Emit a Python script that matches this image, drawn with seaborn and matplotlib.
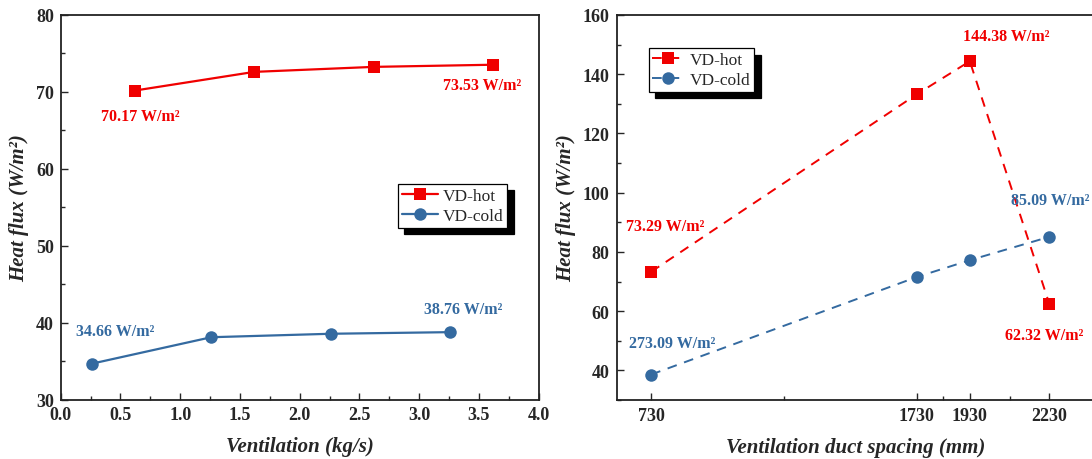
import matplotlib
matplotlib.use("Agg")
import matplotlib.pyplot as plt
from matplotlib.ticker import MultipleLocator, FixedLocator
import seaborn as sns
import pandas as pd

# Left panel: heat flux vs. ventilation rate
vent_hot = [0.62, 1.62, 2.62, 3.62]
flux_hot_vent = [70.17, 72.6, 73.25, 73.53]
vent_cold = [0.26, 1.26, 2.26, 3.26]
flux_cold_vent = [34.66, 38.1, 38.55, 38.76]

# Right panel: heat flux vs. ventilation duct spacing
spacing = [730, 1730, 1930, 2230]
flux_hot_spacing = [73.29, 133.2, 144.38, 62.32]
flux_cold_spacing = [38.6, 71.5, 77.2, 85.09]
spacing_minor = [1230, 1830, 2080]

series_names = ["VD-hot", "VD-cold"]

RED = "#f00000"
BLUE = "#346aa0"
SERIF = "Liberation Serif"
LABEL_SIZE = 15
TICK_SIZE = 13
ANN_SIZE = 11.5

sns.set_theme(style="ticks")
plt.rcParams["font.family"] = [SERIF, "DejaVu Serif"]
plt.rcParams["axes.edgecolor"] = "#222222"

fig = plt.figure(figsize=(10.92, 4.6), dpi=100)
ax1 = fig.add_axes([0.0556, 0.1293, 0.4376, 0.836])
ax2 = fig.add_axes([0.5647, 0.1283, 0.4863, 0.837])


def style_axes(ax):
    for sp in ax.spines.values():
        sp.set_visible(True)
        sp.set_linewidth(1.3)
        sp.set_color("#222222")
    ax.tick_params(which="major", direction="in", length=5, width=1.0,
                   labelsize=TICK_SIZE, pad=5, top=False, right=False)
    ax.tick_params(which="minor", direction="in", length=3, width=1.0,
                   top=False, right=False)
    for lab in ax.get_xticklabels() + ax.get_yticklabels():
        lab.set_fontweight("bold")


def make_legend(ax, anchor, handlelength):
    leg = ax.legend(loc="upper left", bbox_to_anchor=anchor, borderaxespad=0,
                    frameon=True, fancybox=False, framealpha=1,
                    edgecolor="black", prop={"family": SERIF, "size": 12.5},
                    handlelength=handlelength, handletextpad=0.3,
                    borderpad=0.2, labelspacing=0.25,
                    shadow={"ox": 4.5, "oy": -4.5, "facecolor": "black",
                            "edgecolor": "black", "alpha": 1})
    leg.get_frame().set_linewidth(0.9)
    return leg


label_kw = dict(fontsize=LABEL_SIZE, fontweight="bold", fontstyle="italic")

# ---- left panel ----
df_vent = pd.DataFrame({
    "x": vent_hot + vent_cold,
    "y": flux_hot_vent + flux_cold_vent,
    "series": [series_names[0]] * len(vent_hot) + [series_names[1]] * len(vent_cold),
})
sns.lineplot(data=df_vent, x="x", y="y", hue="series", style="series",
             palette=[RED, BLUE], markers=["s", "o"], dashes=False,
             markersize=9, linewidth=1.6, markeredgewidth=0, ax=ax1)
ax1.xaxis.set_major_locator(MultipleLocator(0.5))
ax1.xaxis.set_minor_locator(MultipleLocator(0.25))
ax1.yaxis.set_major_locator(MultipleLocator(10))
ax1.yaxis.set_minor_locator(MultipleLocator(5))
ax1.set_xlim(0, 4)
ax1.set_ylim(30, 80)
ax1.xaxis.set_major_formatter(lambda v, pos: f"{v:.1f}")
style_axes(ax1)
ax1.set_xlabel("Ventilation (kg/s)", va="center", **label_kw)
ax1.xaxis.set_label_coords(0.5, -0.122)
ax1.set_ylabel("Heat flux (W/m²)", labelpad=5, **label_kw)
make_legend(ax1, (0.706, 0.5605), 2.1)

ann_kw = dict(fontsize=ANN_SIZE, fontweight="bold", family=SERIF,
              ha="center", va="center")
ax1.text(0.67, 66.9, f"{flux_hot_vent[0]:.2f} W/m²", color=RED, **ann_kw)
ax1.text(3.53, 70.9, f"{flux_hot_vent[-1]:.2f} W/m²", color=RED, **ann_kw)
ax1.text(0.46, 38.9, f"{flux_cold_vent[0]:.2f} W/m²", color=BLUE, **ann_kw)
ax1.text(3.37, 41.8, f"{flux_cold_vent[-1]:.2f} W/m²", color=BLUE, **ann_kw)

# ---- right panel ----
df_space = pd.DataFrame({
    "x": spacing + spacing,
    "y": flux_hot_spacing + flux_cold_spacing,
    "series": [series_names[0]] * len(spacing) + [series_names[1]] * len(spacing),
})
sns.lineplot(data=df_space, x="x", y="y", hue="series", style="series",
             palette=[RED, BLUE], markers=["s", "o"],
             dashes=[(5, 4), (5, 4)], markersize=9, linewidth=1.4,
             markeredgewidth=0, ax=ax2)
ax2.xaxis.set_major_locator(FixedLocator(spacing))
ax2.xaxis.set_minor_locator(FixedLocator(spacing_minor))
ax2.xaxis.set_major_formatter(lambda v, pos: f"{v:.0f}")
ax2.yaxis.set_major_locator(FixedLocator([40, 60, 80, 100, 120, 140, 160]))
ax2.yaxis.set_minor_locator(MultipleLocator(10))
ax2.set_xlim(600, 2600)
ax2.set_ylim(30, 160)
style_axes(ax2)
ax2.set_xlabel("Ventilation duct spacing (mm)", va="center", **label_kw)
ax2.xaxis.set_label_coords((1500 - 600) / 2000, -0.122)
ax2.set_ylabel("Heat flux (W/m²)", labelpad=5, **label_kw)
make_legend(ax2, (0.06, 0.9135), 1.9)

ax2.text(2069, 152.8, f"{flux_hot_spacing[2]:.2f} W/m²", color=RED, **ann_kw)
ax2.text(784, 88.9, f"{flux_hot_spacing[0]:.2f} W/m²", color=RED, **ann_kw)
ax2.text(2212, 52.0, f"{flux_hot_spacing[3]:.2f} W/m²", color=RED, **ann_kw)
ax2.text(2232, 97.4, f"{flux_cold_spacing[3]:.2f} W/m²", color=BLUE, **ann_kw)
ax2.text(811, 49.2, "273.09 W/m²", color=BLUE, **ann_kw)

fig.savefig("out.png", dpi=100)
